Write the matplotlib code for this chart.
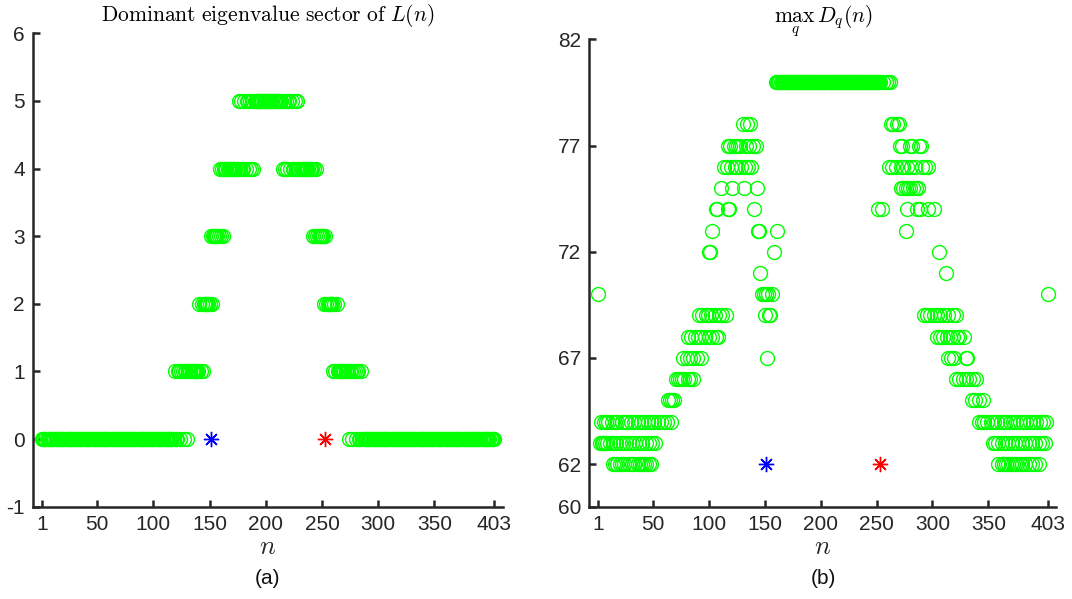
import matplotlib
matplotlib.use('Agg')
import matplotlib.pyplot as plt
import numpy as np

plt.rcParams['font.family'] = ['Liberation Sans', 'DejaVu Sans']
plt.rcParams['mathtext.fontset'] = 'cm'
plt.rcParams['axes.unicode_minus'] = False

# (a) dominant sector of L(n): runs of consecutive n with the same sector
run_first = [1, 119, 120, 122, 124, 125, 127, 128, 130, 131, 141, 142, 143, 144, 145, 151, 152,
             153, 159, 160, 161, 162, 163, 176, 177, 178, 179, 181, 182, 183, 185, 186, 187, 188, 189,
             190, 215, 216, 217, 218, 219, 220, 222, 223, 224, 226, 227, 228, 229, 242, 243, 244,
             245, 246, 252, 253, 254, 260, 261, 262, 263, 264, 274, 275, 277, 278, 280, 281, 283,
             285, 286]
run_last = [118, 119, 121, 123, 124, 126, 127, 129, 130, 140, 141, 142, 143, 144, 150, 151, 152,
            158, 159, 160, 161, 162, 175, 176, 177, 178, 180, 181, 182, 184, 185, 186, 187, 188, 189,
            214, 215, 216, 217, 218, 219, 221, 222, 223, 225, 226, 227, 228, 241, 242, 243, 244,
            245, 251, 252, 253, 259, 260, 261, 262, 263, 273, 274, 276, 277, 279, 280, 282, 284,
            285, 403]
run_sector = [0, 1, 0, 1, 0, 1, 0, 1, 0, 1, 2, 1, 2, 1, 2, 3, 2,
              3, 4, 3, 4, 3, 4, 5, 4, 5, 4, 5, 4, 5, 4, 5, 4, 5, 4,
              5, 4, 5, 4, 5, 4, 5, 4, 5, 4, 5, 4, 5, 4, 3, 4, 3,
              4, 3, 2, 3, 2, 1, 2, 1, 2, 1, 0, 1, 0, 1, 0, 1, 0,
              1, 0]

# (b) max_q D_q(n): the n values found at each level
n_80 = list(range(160, 254)) + [256, 258, 260, 262]
n_78 = [130, 134, 137, 263, 265, 268, 270]
n_77 = [117, 119, 122, 124, 126, 128, 133, 136, 139, 142, 271, 273, 280, 282, 288, 290]
n_76 = [113, 116, 120, 123, 125, 129, 132, 135, 138, 261, 264, 267, 272, 274, 277, 281, 284,
        291, 293, 296]
n_75 = [111, 121, 131, 143, 272, 274, 276, 278, 280, 283, 285, 287]
n_74 = [106, 107, 117, 118, 140, 251, 255, 277, 286, 289, 296, 301]
n_73 = [103, 144, 145, 161, 276]
n_72 = [100, 101, 158, 306]
n_71 = [146, 312]
n_70 = [1, 147, 149, 151, 153, 156, 403]
n_69 = [91, 94, 97, 99, 102, 105, 109, 112, 115, 150, 154, 155, 292, 295, 298, 301, 304, 307,
        310, 314, 318, 321]
n_68 = [81, 84, 87, 90, 93, 96, 100, 103, 106, 108, 304, 307, 309, 313, 316, 318, 322, 324, 328]
n_67 = [77, 80, 83, 86, 89, 93, 152, 314, 317, 319, 330, 331]
n_66 = [70, 72, 74, 76, 78, 81, 83, 86, 321, 324, 327, 330, 333, 336, 339]
n_65 = [63, 65, 67, 69, 335, 338, 342, 345]
n_64 = [3, 6, 8, 10, 13, 16, 18, 22, 25, 27, 30, 33, 36, 39, 42, 45, 48, 51, 54, 57, 60, 62, 66,
        342, 344, 346, 349, 352, 355, 358, 361, 364, 366, 369, 372, 375, 378, 381, 384, 387, 390,
        393, 396, 399, 402]
n_63 = [2, 4, 5, 7, 9, 11, 14, 17, 20, 23, 26, 28, 31, 34, 37, 40, 44, 46, 49, 52,
        354, 356, 359, 362, 365, 368, 371, 374, 377, 380, 383, 386, 389, 392, 395, 398, 401]
n_62 = [14, 16, 18, 20, 22, 24, 28, 31, 33, 36, 38, 40, 42, 44, 46, 48,
        359, 362, 364, 366, 368, 370, 372, 374, 376, 378, 380, 383, 386, 389, 392, 395]

dq_levels = [80, 78, 77, 76, 75, 74, 73, 72, 71, 70, 69, 68, 67, 66, 65, 64, 63, 62]
dq_lists = [n_80, n_78, n_77, n_76, n_75, n_74, n_73, n_72, n_71, n_70, n_69, n_68, n_67,
            n_66, n_65, n_64, n_63, n_62]

# marked sizes
star_n = [151, 253]
star_col = ['#0000ff', '#ff0000']

xticks = [1, 50, 100, 150, 200, 250, 300, 350, 403]
axcol = '#262626'
green = (0, 1, 0)


def style_axes(ax):
    for s in ['top', 'right']:
        ax.spines[s].set_visible(False)
    for s in ['left', 'bottom']:
        ax.spines[s].set_linewidth(1.8)
        ax.spines[s].set_color(axcol)
    ax.tick_params(direction='in', length=5, width=1.8, colors=axcol, labelsize=15, pad=6)
    ax.set_xlim(-7, 411)
    ax.set_xticks(xticks)
    ax.set_xticklabels([str(t) for t in xticks])
    ax.set_xlabel('$n$', fontsize=19, labelpad=1, color=axcol)


fig = plt.figure(figsize=(10.72, 5.99), dpi=100)
ax1 = fig.add_axes([0.0308, 0.1541, 0.4384, 0.7903])
ax2 = fig.add_axes([0.5499, 0.1541, 0.4356, 0.7803])

# left panel
n_a = []
sec_a = []
for f, l, s in zip(run_first, run_last, run_sector):
    for n in range(f, l + 1):
        n_a.append(n)
        sec_a.append(s)
ax1.plot(n_a, sec_a, 'o', mfc='none', mec=green, ms=10, mew=1.0, ls='none')
for n, c in zip(star_n, star_col):
    ax1.plot(n, 0, marker=(8, 2, 0), color=c, ms=11, mew=1.0, ls='none')
style_axes(ax1)
ax1.set_ylim(-1, 6)
ax1.set_yticks(range(-1, 7))
ax1.set_yticklabels([str(v) for v in range(-1, 7)])
ax1.set_title(r'$\mathrm{Dominant\ eigenvalue\ sector\ of\ }L(n)$', fontsize=15.5, pad=9)

# right panel
for lev, ns in zip(dq_levels, dq_lists):
    ax2.plot(ns, [lev] * len(ns), 'o', mfc='none', mec=green, ms=10, mew=1.0, ls='none')
for n, c in zip(star_n, star_col):
    ax2.plot(n, 62, marker=(8, 2, 0), color=c, ms=11, mew=1.0, ls='none')
style_axes(ax2)
ax2.set_ylim(60, 82)
ax2.set_yticks([60, 62, 67, 72, 77, 82])
ax2.set_title(r'$\max_q\, D_q\!(n)$', fontsize=15.5, pad=6)

fig.text(0.0308 + 0.4384 / 2, 1 - 578 / 599, '(a)', ha='center', va='center', fontsize=15,
         color='#111111')
fig.text(0.5499 + 0.4356 / 2, 1 - 578 / 599, '(b)', ha='center', va='center', fontsize=15,
         color='#111111')

fig.savefig('out.png', dpi=100)
